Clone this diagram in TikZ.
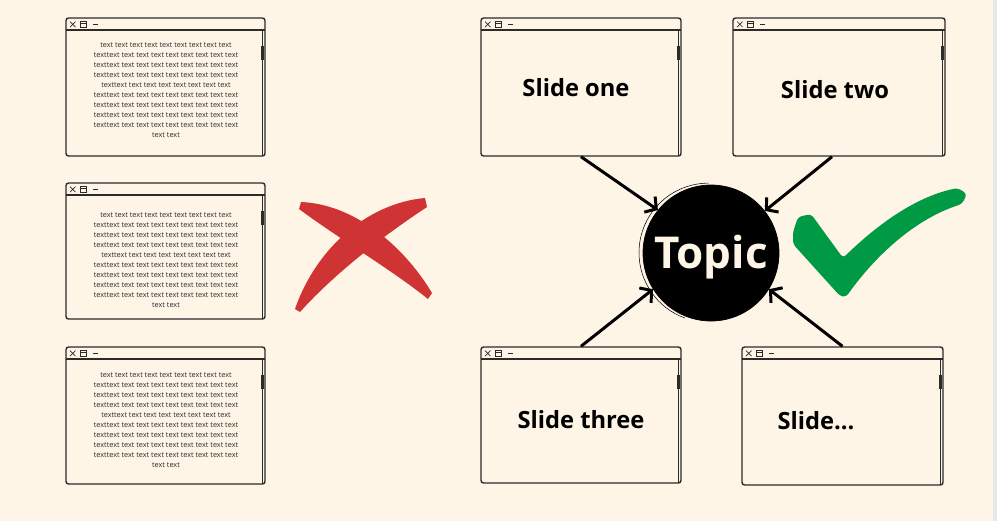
\documentclass[tikz,border=0pt]{standalone}
\usepackage{fontspec}
\setmainfont{Open Sans}
\usetikzlibrary{arrows.meta,positioning}
\definecolor{paper}{HTML}{FEF5E6}
\definecolor{ink}{HTML}{2B2B2B}
\definecolor{xred}{HTML}{D03333}
\definecolor{okgreen}{HTML}{009A44}

\newcommand{\dummytext}{text text text text text text text text text\\
texttext text text text text text text text text\\
texttext text text text text text text text text\\
texttext text text text text text text text text\\
texttext text text text text text text text\\
texttext text text text text text text text text\\
texttext text text text text text text text text\\
texttext text text text text text text text text\\
texttext text text text text text text text text\\
text text}

\tikzset{
  win/.style={draw=ink, line width=0.8pt, rounded corners=1.5pt, inner sep=0pt,
    path picture={
      \begin{scope}[sharp corners]
      % title bar and scroll bar
      \draw[ink, line width=0.6pt] ([yshift=-2.4mm]path picture bounding box.north west) -- ([yshift=-2.4mm]path picture bounding box.north east);
      \draw[ink, line width=0.5pt] ([xshift=-0.6mm,yshift=-2.4mm]path picture bounding box.north east) -- ([xshift=-0.6mm]path picture bounding box.south east);
      \fill[ink] ([xshift=-0.9mm,yshift=-5.6mm]path picture bounding box.north east) rectangle ([xshift=-0.3mm,yshift=-8.4mm]path picture bounding box.north east);
      % icons
      \draw[ink, line width=0.4pt] ([xshift=0.8mm,yshift=-0.7mm]path picture bounding box.north west) -- ([xshift=1.9mm,yshift=-1.8mm]path picture bounding box.north west)
        ([xshift=0.8mm,yshift=-1.8mm]path picture bounding box.north west) -- ([xshift=1.9mm,yshift=-0.7mm]path picture bounding box.north west);
      \draw[ink, line width=0.4pt] ([xshift=2.8mm,yshift=-0.6mm]path picture bounding box.north west) rectangle ([xshift=4.1mm,yshift=-1.9mm]path picture bounding box.north west)
        ([xshift=2.8mm,yshift=-1.0mm]path picture bounding box.north west) -- ([xshift=4.1mm,yshift=-1.0mm]path picture bounding box.north west);
      \draw[ink, line width=0.4pt] ([xshift=5.4mm,yshift=-1.3mm]path picture bounding box.north west) -- ([xshift=6.4mm,yshift=-1.3mm]path picture bounding box.north west);
      \end{scope}
    }},
  filler/.style={align=center, text=ink, font=\fontsize{4.15}{5.67}\selectfont},
  slidelabel/.style={font=\bfseries\fontsize{13.5}{16}\selectfont, text=black},
  arr/.style={black, line width=1.7pt, -{Straight Barb[length=1.6mm,width=3.8mm]}}
}

\begin{document}
\begin{tikzpicture}[x=0.2mm,y=-0.2mm]
\fill[paper] (0,0) rectangle (997,521);
\fill[gray!18] (993,0) rectangle (997,521);
\useasboundingbox (0,0) rectangle (997,521);

% left column, too much text
\node[win, minimum width=39.8mm, minimum height=27.6mm] (l1) at (165.5,87) {};
\node[win, minimum width=39.8mm, minimum height=27.2mm] (l2) at (165.5,251) {};
\node[win, minimum width=39.8mm, minimum height=27.4mm] (l3) at (165.5,415.5) {};
\node[filler] (t1) at (166,90) {\dummytext};
\node[filler] (t2) at (166,260) {\dummytext};
\node[filler] (t3) at (166,420) {\dummytext};

% red cross
\fill[xred] (301,202) .. controls (352,204) and (402,243) .. (432,293)
  -- (428,299) .. controls (392,270) and (338,238) .. (299,209) -- cycle;
\fill[xred] (425,198) .. controls (368,203) and (316,248) .. (295,309)
  -- (300,312) .. controls (336,272) and (386,234) .. (427,207) -- cycle;

% slides
\node[win, minimum width=40mm, minimum height=27.6mm] (s1) at (581,87) {};
\node[win, minimum width=42.4mm, minimum height=27.6mm] (s2) at (839,87) {};
\node[win, minimum width=40mm, minimum height=27.2mm] (s3) at (581,415) {};
\node[win, minimum width=40.2mm, minimum height=27.6mm] (s4) at (842.5,416) {};
\node[slidelabel] (n1) at (576,88) {Slide one};
\node[slidelabel] (n2) at (835,90) {Slide two};
\node[slidelabel] (n3) at (581,420) {Slide three};
\node[slidelabel] (n4) at (816,421) {Slide...};

% topic
\node[circle, fill=black, draw=black, minimum size=27.2mm, inner sep=0pt] (topic) at (711,253) {};
\draw[black, line width=0.3pt] ([xshift=-0.5mm,yshift=0.3mm]topic.north) arc (90:250:13.9mm);
\node[text=paper, font=\bfseries\fontsize{25}{30}\selectfont] (tlabel) at (711,257) {Topic};

\draw[arr] (s1.south) -- (topic.141);
\draw[arr] ([xshift=-1.4mm]s2.south) -- (topic.38);
\draw[arr] (s3.north) -- (topic.212);
\draw[arr] (s4.north) -- (topic.328);

% green tick
\fill[okgreen, rounded corners=2pt] (793,232) -- (798,217) -- (811,214) -- (843,258)
  .. controls (880,222) and (918,196) .. (958,188) -- (967,194) -- (962,204)
  .. controls (918,218) and (878,252) .. (846,297) -- (840,296) -- (793,244) -- cycle;
\end{tikzpicture}
\end{document}
